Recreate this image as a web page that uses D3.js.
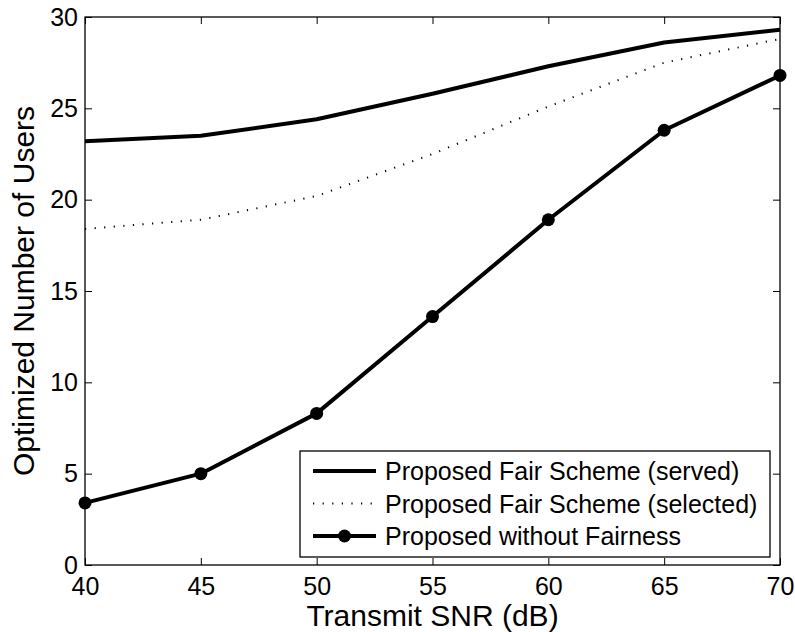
<!DOCTYPE html>
<html>
<head>
<meta charset="utf-8">
<script src="https://cdn.jsdelivr.net/npm/d3@7"></script>
<style>
  body { margin: 0; background: #fff; }
  svg { display: block; }
  text { font-family: "Liberation Sans", Arial, Helvetica, sans-serif; fill: #000; }
</style>
</head>
<body>
<svg id="chart" width="795" height="632"></svg>
<script>
// data
const snr = [40, 45, 50, 55, 60, 65, 70];
const fairServed = [23.2, 23.5, 24.4, 25.8, 27.3, 28.6, 29.3];
const fairSelected = [18.4, 18.9, 20.2, 22.5, 25.1, 27.5, 28.8];
const noFairness = [3.4, 5.0, 8.3, 13.6, 18.9, 23.8, 26.8];
const xTicks = [40, 45, 50, 55, 60, 65, 70];
const yTicks = [0, 5, 10, 15, 20, 25, 30];
const legendLabels = ["Proposed Fair Scheme (served)", "Proposed Fair Scheme (selected)", "Proposed without Fairness"];

const margin = {top: 17, right: 15, bottom: 67, left: 85};
const width = 795 - margin.left - margin.right;
const height = 632 - margin.top - margin.bottom;

const svg = d3.select("#chart");
const g = svg.append("g").attr("transform", `translate(${margin.left},${margin.top})`);

const x = d3.scaleLinear().domain([40, 70]).range([0, width]);
const y = d3.scaleLinear().domain([0, 30]).range([height, 0]);

// axes with inward ticks, MATLAB style
const styleAxis = sel => {
    sel.select(".domain").remove();
    sel.selectAll(".tick line").attr("stroke", "#000").attr("stroke-width", 1);
};

g.append("g")
    .attr("transform", `translate(0,${height})`)
    .call(d3.axisBottom(x).tickValues(xTicks).tickSize(-7).tickPadding(12))
    .call(styleAxis)
    .selectAll("text").style("font-size", "25px");

g.append("g")
    .call(d3.axisTop(x).tickValues(xTicks).tickSize(-7).tickFormat(""))
    .call(styleAxis);

g.append("g")
    .call(d3.axisLeft(y).tickValues(yTicks).tickSize(-7).tickPadding(7))
    .call(styleAxis)
    .selectAll("text").style("font-size", "25px");

g.append("g")
    .attr("transform", `translate(${width},0)`)
    .call(d3.axisRight(y).tickValues(yTicks).tickSize(-7).tickFormat(""))
    .call(styleAxis);

g.selectAll(".tick text").attr("fill", "#000");

// plot frame
g.append("rect")
    .attr("width", width).attr("height", height)
    .attr("fill", "none").attr("stroke", "#000").attr("stroke-width", 1.3);

const line = ys => d3.line()
    .x((d, i) => x(snr[i]))
    .y(d => y(d))(ys);

g.append("path")
    .attr("d", line(fairServed))
    .attr("fill", "none").attr("stroke", "#000").attr("stroke-width", 4)
    .attr("stroke-linejoin", "round");

g.append("path")
    .attr("d", line(fairSelected))
    .attr("fill", "none").attr("stroke", "#000").attr("stroke-width", 2)
    .attr("stroke-dasharray", "1.2,8.4");

g.append("path")
    .attr("d", line(noFairness))
    .attr("fill", "none").attr("stroke", "#000").attr("stroke-width", 4)
    .attr("stroke-linejoin", "round");

g.selectAll(".marker")
    .data(noFairness)
    .join("circle")
    .attr("class", "marker")
    .attr("cx", (d, i) => x(snr[i]))
    .attr("cy", d => y(d))
    .attr("r", 6.5)
    .attr("fill", "#000");

// legend
const legend = svg.append("g").attr("transform", "translate(300,451)");
legend.append("rect")
    .attr("width", 470).attr("height", 106)
    .attr("fill", "#fff").attr("stroke", "#000").attr("stroke-width", 1.3);

const rowY = [20, 52.5, 85];
legendLabels.forEach((label, i) => {
    const row = legend.append("g").attr("transform", `translate(0,${rowY[i]})`);
    const sample = row.append("line")
        .attr("x1", 13).attr("x2", 76)
        .attr("stroke", "#000")
        .attr("stroke-width", i === 1 ? 2 : 4);
    if (i === 1) sample.attr("stroke-dasharray", "1.2,8.4");
    if (i === 2) row.append("circle").attr("cx", 44.5).attr("r", 6.5).attr("fill", "#000");
    row.append("text")
        .attr("x", 85).attr("dy", "0.36em")
        .style("font-size", "25px")
        .text(label);
});

// axis titles
svg.append("text")
    .attr("x", margin.left + width / 2).attr("y", 626)
    .attr("text-anchor", "middle")
    .style("font-size", "30px")
    .text("Transmit SNR (dB)");

svg.append("text")
    .attr("transform", `translate(34,${margin.top + height / 2}) rotate(-90)`)
    .attr("text-anchor", "middle")
    .style("font-size", "30px")
    .text("Optimized Number of Users");
</script>
</body>
</html>
